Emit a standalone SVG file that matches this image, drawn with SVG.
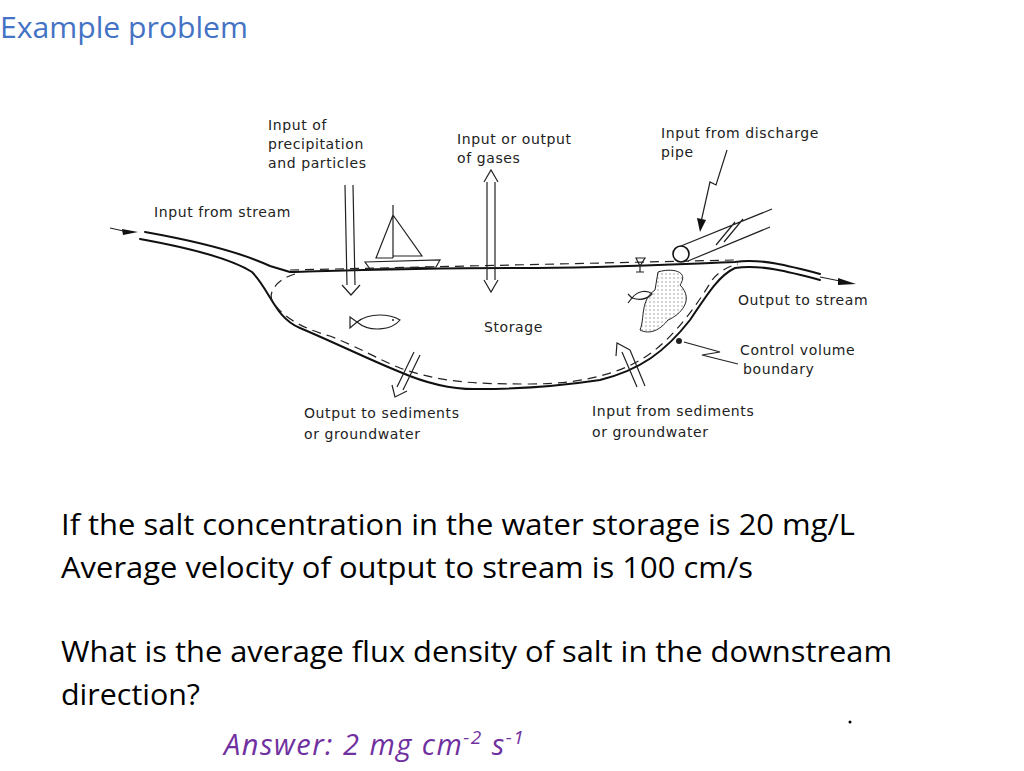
<svg xmlns="http://www.w3.org/2000/svg" width="1024" height="771" viewBox="0 0 1024 771">
<defs>
<style>
.l{fill:none;stroke:#111;stroke-width:2;stroke-linecap:round;stroke-linejoin:round}
.t{fill:none;stroke:#222;stroke-width:1.2}
.d{fill:none;stroke:#222;stroke-width:1.2;stroke-dasharray:9 6}
.s{font-family:"DejaVu Sans",sans-serif;font-size:14px;fill:#222;letter-spacing:0.6px}
.b{font-family:"Open Sans","Liberation Sans",sans-serif;font-size:29px;fill:#000}
</style>
<pattern id="dots" width="4" height="4" patternUnits="userSpaceOnUse"><rect width="4" height="4" fill="#fff"/><circle cx="2" cy="2" r="0.7" fill="#888"/></pattern>
</defs>
<rect width="1024" height="771" fill="#fff"/>
<text x="0" y="38" font-family="Open Sans,Liberation Sans,sans-serif" font-size="29" fill="#4472C4" textLength="248" lengthAdjust="spacingAndGlyphs">Example problem</text>
<g id="lake">
<path class="l" d="M145,232 C190,240 240,252 270,266 L290,272 C360,270 420,268 520,268 C600,268 680,264 735,262 C760,258 790,266 820,274"/>
<path class="l" d="M140,239 C190,248 230,258 252,272 C270,290 275,318 300,328 C340,345 370,360 400,372 C430,385 455,390 480,389 C520,389 560,386 600,380 C640,370 665,352 690,320 C710,290 720,275 735,268 C760,264 790,272 820,280"/>
<path class="t" d="M110,228 L128,232"/><path d="M122,229 L138,232 L123,235 Z" fill="#111"/>
<path class="t" d="M820,277 L845,282"/><path d="M838,278 L856,284 L838,285 Z" fill="#111"/>
<path class="d" d="M295,274 C280,278 268,290 272,300 C280,315 300,328 330,336 C360,348 380,360 400,368 C440,382 470,384 530,384 C590,384 630,370 655,350 C680,330 700,300 712,280 C720,270 730,266 738,264"/>
<path class="d" d="M290,270 L735,260"/>
</g>
<g id="precipitation">
<path class="t" d="M345,185 L347,285 M353,185 L355,285"/>
<path class="t" d="M342,285 L351,295 L360,285"/>
<text class="s"><tspan x="268" y="130">Input of</tspan><tspan x="268" y="149">precipitation</tspan><tspan x="268" y="168">and particles</tspan></text>
</g>
<g id="gases">
<path class="t" d="M487,182 L487,280 M495,182 L495,280"/>
<path class="t" d="M484,182 L491,170 L498,182 M484,280 L491,292 L498,280"/>
<text class="s"><tspan x="457" y="144">Input or output</tspan><tspan x="457" y="163">of gases</tspan></text>
</g>
<g id="stream-in"><text class="s" x="154" y="217">Input from stream</text></g>
<g id="boat">
<path class="t" d="M365,262 L440,260 L436,267 L370,269 Z"/>
<path class="t" d="M393,205 L393,258 M393,215 L376,258 L393,258 M393,215 L422,256 L393,256"/>
</g>
<g id="fish">
<path class="t" d="M350,317 L357,322 L350,328 Z M357,322 C370,312 390,314 400,320 C392,330 370,333 357,322 Z"/>
<circle cx="393" cy="320" r="1" fill="#222"/>
</g>
<text class="s" x="484" y="332">Storage</text>
<g id="discharge">
<path d="M658,272 C670,268 690,270 680,285 C695,300 680,315 668,320 C660,330 650,335 640,330 C645,318 640,300 655,290 Z" fill="url(#dots)" stroke="#222" stroke-width="1"/>
<circle cx="681" cy="254" r="8" fill="#fff" stroke="#111" stroke-width="1.6"/>
<path class="t" d="M681,246 L772,209 M688,261 L770,227 M716,245 L735,222 M724,242 L743,219"/>
<path class="t" d="M727,150 L716,185 L710,182 L701,222"/>
<path d="M697,218 L700,232 L706,220 Z" fill="#111"/>
<path class="t" d="M636,258 L645,258 L640,266 Z M640,266 L640,272 M636,272 L644,272"/>
<path class="t" d="M632,298 C638,290 648,290 652,294 C646,300 638,300 632,298 L628,303 M632,298 L628,294"/>
<text class="s"><tspan x="661" y="138">Input from discharge</tspan><tspan x="661" y="157">pipe</tspan></text>
</g>
<g id="output-stream"><text class="s" x="738" y="305">Output to stream</text></g>
<g id="control">
<circle cx="679" cy="341" r="3" fill="#222"/>
<path class="t" d="M684,342 L720,352 L702,355 L738,364"/>
<text class="s"><tspan x="740" y="355">Control volume</tspan><tspan x="743" y="374">boundary</tspan></text>
</g>
<g id="sed-out">
<path class="t" d="M414,352 L397,387 M420,355 L403,390 M392,385 L395,397 L407,391"/>
<text class="s"><tspan x="304" y="418">Output to sediments</tspan><tspan x="304" y="439">or groundwater</tspan></text>
</g>
<g id="sed-in">
<path class="t" d="M637,387 L622,352 M645,386 L630,350 M616,356 L617,343 L630,350"/>
<text class="s"><tspan x="592" y="416">Input from sediments</tspan><tspan x="592" y="437">or groundwater</tspan></text>
</g>
<text class="b" x="61" y="535" textLength="794" lengthAdjust="spacingAndGlyphs">If the salt concentration in the water storage is 20 mg/L</text>
<text class="b" x="61" y="578" textLength="692" lengthAdjust="spacingAndGlyphs">Average velocity of output to stream is 100 cm/s</text>
<text class="b" x="61" y="662" textLength="831" lengthAdjust="spacingAndGlyphs">What is the average flux density of salt in the downstream</text>
<text class="b" x="61" y="705" textLength="139" lengthAdjust="spacingAndGlyphs">direction?</text>
<circle cx="850" cy="722" r="1.5" fill="#000"/>
<text x="224" y="755" font-family="Open Sans,Liberation Sans,sans-serif" font-size="29" font-style="italic" fill="#7030A0" letter-spacing="1.5">Answer: 2 mg cm<tspan font-size="19" dy="-11">-2</tspan><tspan dy="11"> s</tspan><tspan font-size="19" dy="-11">-1</tspan></text>
</svg>
